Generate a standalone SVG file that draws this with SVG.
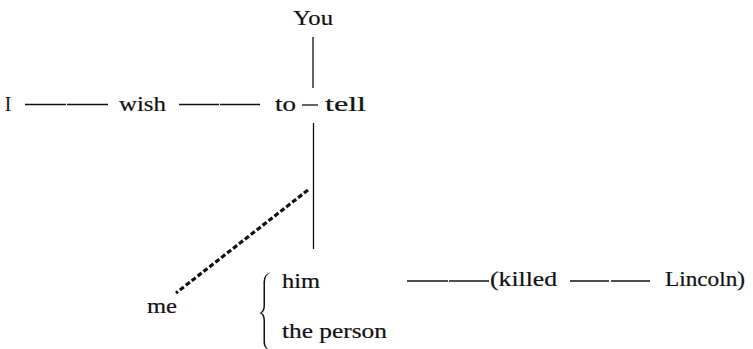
<svg xmlns="http://www.w3.org/2000/svg" width="753" height="349" viewBox="0 0 753 349">
<style>
text{font-family:"Liberation Serif","DejaVu Serif",serif;font-size:20px;fill:#111;stroke:#111;stroke-width:0.2}
.ln{stroke:#111;stroke-width:1.3;fill:none}
.dsh{stroke:#111;stroke-width:3.2;stroke-dasharray:5 2.5;fill:none}
</style>
<rect width="753" height="349" fill="#fff"/>
<g id="connectors">
<line class="ln" x1="25" y1="104.5" x2="66" y2="104.5"/>
<line class="ln" x1="67" y1="104.5" x2="108" y2="104.5"/>
<line class="ln" x1="179" y1="104.5" x2="219" y2="104.5"/>
<line class="ln" x1="220" y1="104.5" x2="260" y2="104.5"/>
<line class="ln" x1="302" y1="105" x2="318" y2="105"/>
<line class="ln" x1="313" y1="37" x2="313" y2="88"/>
<line class="ln" x1="313.5" y1="123" x2="313.5" y2="249"/>
<line class="dsh" x1="308" y1="190" x2="176" y2="293"/>
<line class="ln" x1="407" y1="281" x2="448" y2="281"/>
<line class="ln" x1="449" y1="281" x2="489" y2="281"/>
<line class="ln" x1="570" y1="281" x2="609" y2="281"/>
<line class="ln" x1="611" y1="281" x2="650" y2="281"/>
<path fill="#111" d="M271 272.5 Q263 274 263.5 283 L263.5 305 Q263.5 311.5 259.5 313 Q263.5 314.5 263.5 321 L263.5 341 Q263 349 271 350.5 Q265 349 265 341 L265 321 Q265 314.5 261.5 313 Q265 311.5 265 305 L265 283 Q265 274 271 272.5 Z"/>
</g>
<g id="n-you"><text x="293" y="25" textLength="40" lengthAdjust="spacingAndGlyphs">You</text></g>
<g id="n-i"><text x="5" y="111" textLength="6" lengthAdjust="spacingAndGlyphs">I</text></g>
<g id="n-wish"><text x="119" y="111" textLength="47" lengthAdjust="spacingAndGlyphs">wish</text></g>
<g id="n-to"><text x="275" y="111" textLength="21" lengthAdjust="spacingAndGlyphs">to</text></g>
<g id="n-tell"><text x="325" y="111" textLength="41" lengthAdjust="spacingAndGlyphs">tell</text></g>
<g id="n-me"><text x="147" y="313" textLength="30" lengthAdjust="spacingAndGlyphs">me</text></g>
<g id="n-him"><text x="282" y="288" textLength="38" lengthAdjust="spacingAndGlyphs">him</text></g>
<g id="n-person"><text x="282" y="338" textLength="105" lengthAdjust="spacingAndGlyphs">the person</text></g>
<g id="n-killed"><text x="490" y="286" textLength="67" lengthAdjust="spacingAndGlyphs">(killed</text></g>
<g id="n-lincoln"><text x="665" y="286" textLength="80" lengthAdjust="spacingAndGlyphs">Lincoln)</text></g>
</svg>
